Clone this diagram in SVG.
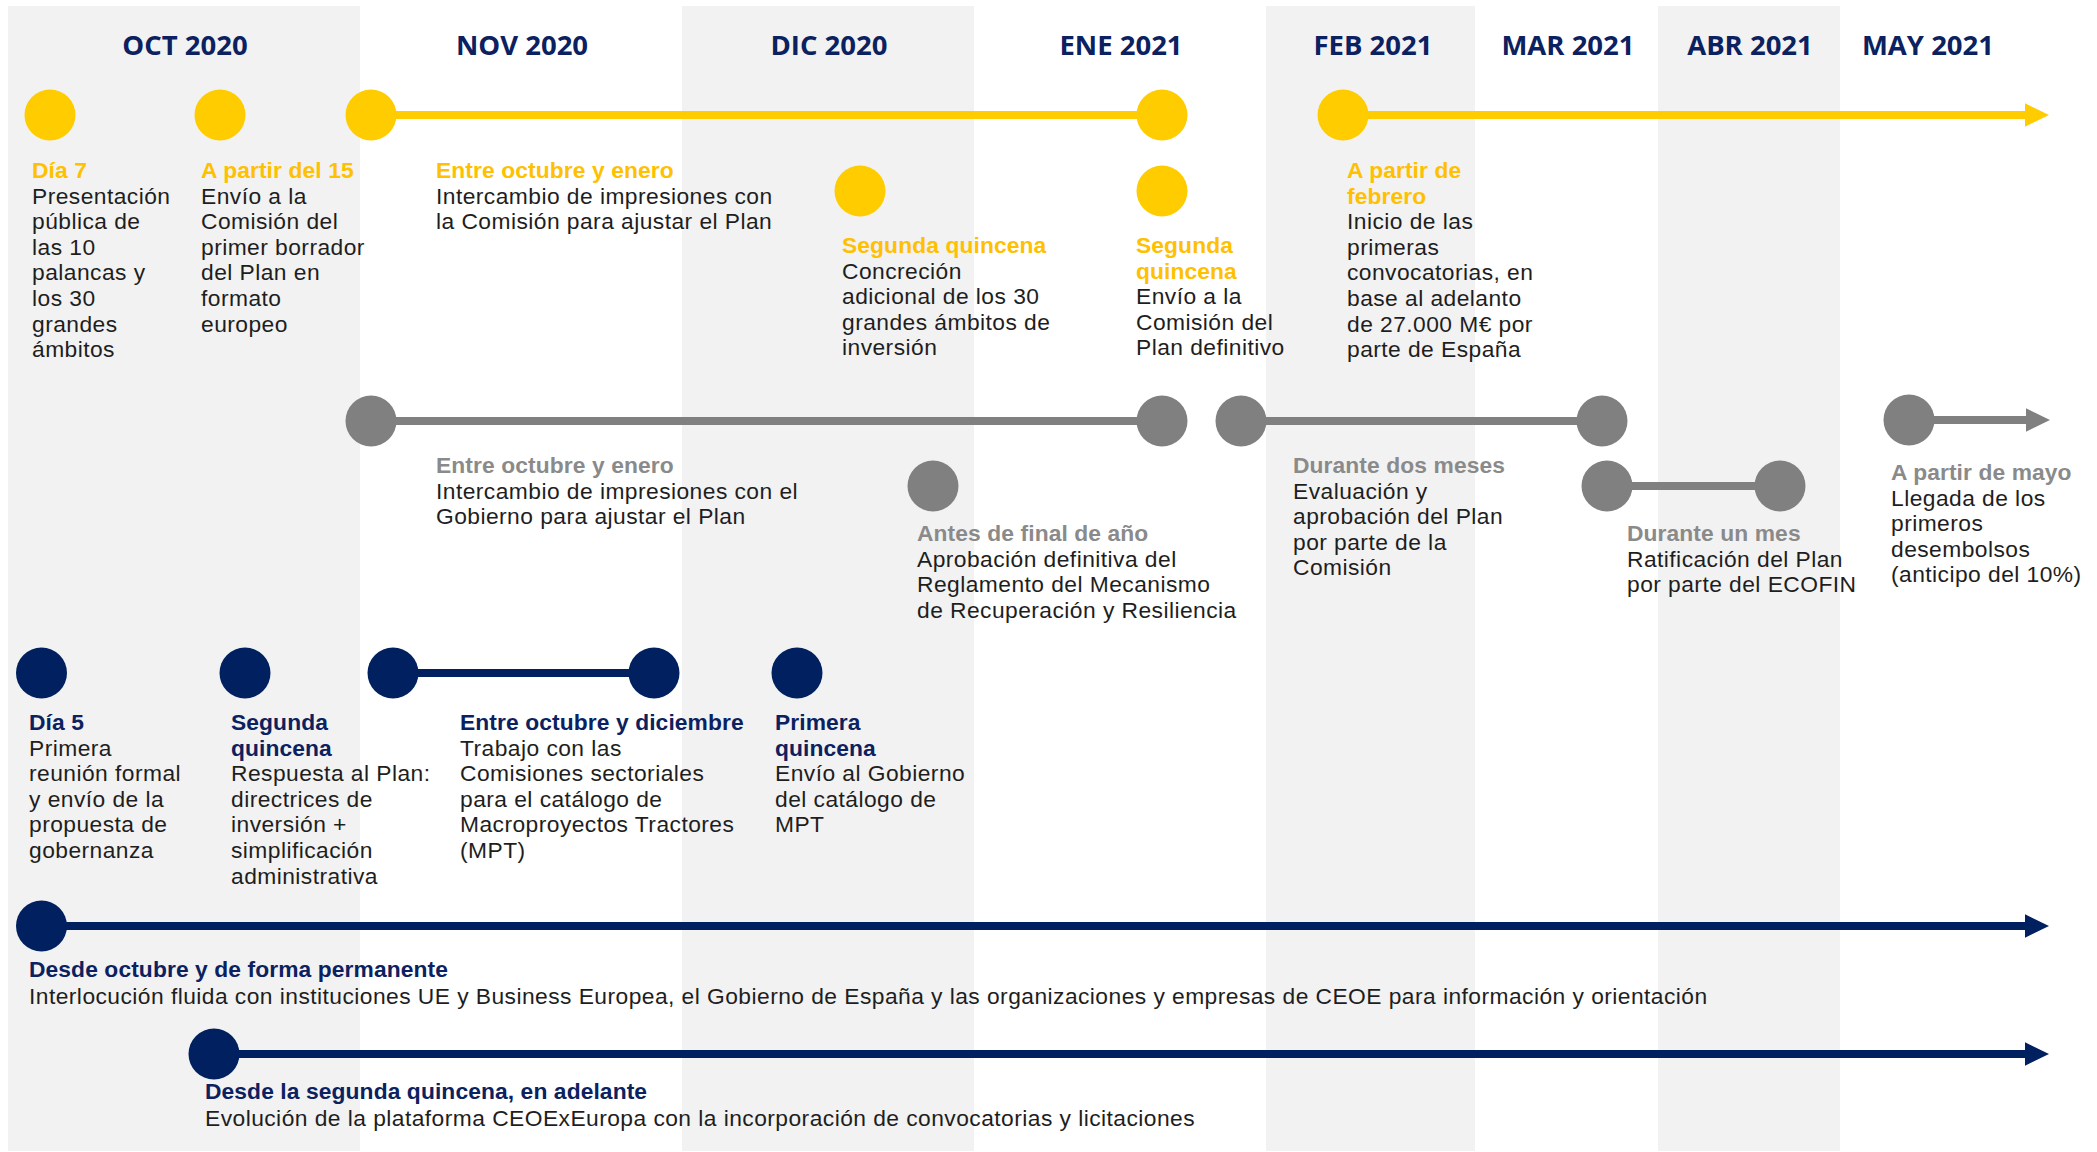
<svg xmlns="http://www.w3.org/2000/svg" width="2097" height="1152" viewBox="0 0 2097 1152">
<defs>
<style>
.band{fill:#F2F2F2}
.month{font-family:"Open Sans","Liberation Sans",sans-serif;font-weight:700;font-size:27.5px;fill:#0B2160;text-anchor:middle}
.t{font-family:"Liberation Sans",Arial,sans-serif;font-size:22.8px;letter-spacing:0.45px;fill:#1E1E1E}
.h{font-weight:700;letter-spacing:0.1px}
.hy{fill:#FFC000}
.hg{fill:#8A8A8A}
.hn{fill:#0B2160}
.cy{fill:#FFCC00}
.cg{fill:#808080}
.cn{fill:#002060}
.ly{stroke:#FFCC00;stroke-width:8;fill:none}
.lg{stroke:#808080;stroke-width:8;fill:none}
.ln{stroke:#002060;stroke-width:8;fill:none}
</style>
<marker id="ay" markerUnits="userSpaceOnUse" markerWidth="24" markerHeight="24" viewBox="0 0 24 24" refX="0" refY="12" orient="auto"><path d="M0,0.3 L24,12 L0,23.7 Z" fill="#FFCC00"/></marker>
<marker id="ag" markerUnits="userSpaceOnUse" markerWidth="24" markerHeight="24" viewBox="0 0 24 24" refX="0" refY="12" orient="auto"><path d="M0,0.3 L24,12 L0,23.7 Z" fill="#808080"/></marker>
<marker id="an" markerUnits="userSpaceOnUse" markerWidth="24" markerHeight="24" viewBox="0 0 24 24" refX="0" refY="12" orient="auto"><path d="M0,0.3 L24,12 L0,23.7 Z" fill="#002060"/></marker>
</defs>
<rect x="0" y="0" width="2097" height="1152" fill="#FFFFFF"/>
<g id="bands">
<rect class="band" x="8" y="6" width="352" height="1145"/>
<rect class="band" x="682" y="6" width="292" height="1145"/>
<rect class="band" x="1266" y="6" width="209" height="1145"/>
<rect class="band" x="1658" y="6" width="182" height="1145"/>
</g>
<g id="months">
<text class="month" x="185" y="55">OCT 2020</text>
<text class="month" x="522" y="55">NOV 2020</text>
<text class="month" x="829" y="55">DIC 2020</text>
<text class="month" x="1121" y="55">ENE 2021</text>
<text class="month" x="1373" y="55">FEB 2021</text>
<text class="month" x="1568" y="55">MAR 2021</text>
<text class="month" x="1750" y="55">ABR 2021</text>
<text class="month" x="1928" y="55">MAY 2021</text>
</g>
<g id="connectors">
<line class="ly" x1="371" y1="115" x2="1162" y2="115"/>
<line class="ly" x1="1343" y1="115" x2="2025" y2="115" marker-end="url(#ay)"/>
<line class="lg" x1="371" y1="421" x2="1162" y2="421"/>
<line class="lg" x1="1241" y1="421" x2="1602" y2="421"/>
<line class="lg" x1="1607" y1="486" x2="1780" y2="486"/>
<line class="lg" x1="1909" y1="420" x2="2026" y2="420" marker-end="url(#ag)"/>
<line class="ln" x1="393" y1="673" x2="654" y2="673"/>
<line class="ln" x1="41.5" y1="926" x2="2025" y2="926" marker-end="url(#an)"/>
<line class="ln" x1="214" y1="1054" x2="2025" y2="1054" marker-end="url(#an)"/>
</g>
<g id="node-y1">
<circle class="cy" cx="50" cy="115" r="25.5"/>
<text class="t"><tspan class="h hy" x="32" y="178">Día 7</tspan><tspan x="32" y="203.6">Presentación</tspan><tspan x="32" y="229.2">pública de</tspan><tspan x="32" y="254.8">las 10</tspan><tspan x="32" y="280.4">palancas y</tspan><tspan x="32" y="306">los 30</tspan><tspan x="32" y="331.6">grandes</tspan><tspan x="32" y="357.2">ámbitos</tspan></text>
</g>
<g id="node-y2">
<circle class="cy" cx="220" cy="115" r="25.5"/>
<text class="t"><tspan class="h hy" x="201" y="178">A partir del 15</tspan><tspan x="201" y="203.6">Envío a la</tspan><tspan x="201" y="229.2">Comisión del</tspan><tspan x="201" y="254.8">primer borrador</tspan><tspan x="201" y="280.4">del Plan en</tspan><tspan x="201" y="306">formato</tspan><tspan x="201" y="331.6">europeo</tspan></text>
</g>
<g id="node-y3">
<circle class="cy" cx="371" cy="115" r="25.5"/>
<circle class="cy" cx="1162" cy="115" r="25.5"/>
<text class="t"><tspan class="h hy" x="436" y="178">Entre octubre y enero</tspan><tspan x="436" y="203.6">Intercambio de impresiones con</tspan><tspan x="436" y="229.2">la Comisión para ajustar el Plan</tspan></text>
</g>
<g id="node-y4">
<circle class="cy" cx="860" cy="191" r="25.5"/>
<text class="t"><tspan class="h hy" x="842" y="253">Segunda quincena</tspan><tspan x="842" y="278.6">Concreción</tspan><tspan x="842" y="304.2">adicional de los 30</tspan><tspan x="842" y="329.8">grandes ámbitos de</tspan><tspan x="842" y="355.4">inversión</tspan></text>
</g>
<g id="node-y5">
<circle class="cy" cx="1162" cy="191" r="25.5"/>
<text class="t"><tspan class="h hy" x="1136" y="253">Segunda</tspan><tspan class="h hy" x="1136" y="278.6">quincena</tspan><tspan x="1136" y="304.2">Envío a la</tspan><tspan x="1136" y="329.8">Comisión del</tspan><tspan x="1136" y="355.4">Plan definitivo</tspan></text>
</g>
<g id="node-y6">
<circle class="cy" cx="1343" cy="115" r="25.5"/>
<text class="t"><tspan class="h hy" x="1347" y="178">A partir de</tspan><tspan class="h hy" x="1347" y="203.6">febrero</tspan><tspan x="1347" y="229.2">Inicio de las</tspan><tspan x="1347" y="254.8">primeras</tspan><tspan x="1347" y="280.4">convocatorias, en</tspan><tspan x="1347" y="306">base al adelanto</tspan><tspan x="1347" y="331.6">de 27.000 M€ por</tspan><tspan x="1347" y="357.2">parte de España</tspan></text>
</g>
<g id="node-g1">
<circle class="cg" cx="371" cy="421" r="25.5"/>
<circle class="cg" cx="1162" cy="421" r="25.5"/>
<text class="t"><tspan class="h hg" x="436" y="473">Entre octubre y enero</tspan><tspan x="436" y="498.6">Intercambio de impresiones con el</tspan><tspan x="436" y="524.2">Gobierno para ajustar el Plan</tspan></text>
</g>
<g id="node-g2">
<circle class="cg" cx="933" cy="486" r="25.5"/>
<text class="t"><tspan class="h hg" x="917" y="541">Antes de final de año</tspan><tspan x="917" y="566.6">Aprobación definitiva del</tspan><tspan x="917" y="592.2">Reglamento del Mecanismo</tspan><tspan x="917" y="617.8">de Recuperación y Resiliencia</tspan></text>
</g>
<g id="node-g3">
<circle class="cg" cx="1241" cy="421" r="25.5"/>
<circle class="cg" cx="1602" cy="421" r="25.5"/>
<text class="t"><tspan class="h hg" x="1293" y="473">Durante dos meses</tspan><tspan x="1293" y="498.6">Evaluación y</tspan><tspan x="1293" y="524.2">aprobación del Plan</tspan><tspan x="1293" y="549.8">por parte de la</tspan><tspan x="1293" y="575.4">Comisión</tspan></text>
</g>
<g id="node-g4">
<circle class="cg" cx="1607" cy="486" r="25.5"/>
<circle class="cg" cx="1780" cy="486" r="25.5"/>
<text class="t"><tspan class="h hg" x="1627" y="541">Durante un mes</tspan><tspan x="1627" y="566.6">Ratificación del Plan</tspan><tspan x="1627" y="592.2">por parte del ECOFIN</tspan></text>
</g>
<g id="node-g5">
<circle class="cg" cx="1909" cy="420" r="25.5"/>
<text class="t"><tspan class="h hg" x="1891" y="480">A partir de mayo</tspan><tspan x="1891" y="505.6">Llegada de los</tspan><tspan x="1891" y="531.2">primeros</tspan><tspan x="1891" y="556.8">desembolsos</tspan><tspan x="1891" y="582.4">(anticipo del 10%)</tspan></text>
</g>
<g id="node-n1">
<circle class="cn" cx="41.5" cy="673" r="25.5"/>
<text class="t"><tspan class="h hn" x="29" y="730">Día 5</tspan><tspan x="29" y="755.6">Primera</tspan><tspan x="29" y="781.2">reunión formal</tspan><tspan x="29" y="806.8">y envío de la</tspan><tspan x="29" y="832.4">propuesta de</tspan><tspan x="29" y="858">gobernanza</tspan></text>
</g>
<g id="node-n2">
<circle class="cn" cx="245" cy="673" r="25.5"/>
<text class="t"><tspan class="h hn" x="231" y="730">Segunda</tspan><tspan class="h hn" x="231" y="755.6">quincena</tspan><tspan x="231" y="781.2">Respuesta al Plan:</tspan><tspan x="231" y="806.8">directrices de</tspan><tspan x="231" y="832.4">inversión +</tspan><tspan x="231" y="858">simplificación</tspan><tspan x="231" y="883.6">administrativa</tspan></text>
</g>
<g id="node-n3">
<circle class="cn" cx="393" cy="673" r="25.5"/>
<circle class="cn" cx="654" cy="673" r="25.5"/>
<text class="t"><tspan class="h hn" x="460" y="730">Entre octubre y diciembre</tspan><tspan x="460" y="755.6">Trabajo con las</tspan><tspan x="460" y="781.2">Comisiones sectoriales</tspan><tspan x="460" y="806.8">para el catálogo de</tspan><tspan x="460" y="832.4">Macroproyectos Tractores</tspan><tspan x="460" y="858">(MPT)</tspan></text>
</g>
<g id="node-n4">
<circle class="cn" cx="797" cy="673" r="25.5"/>
<text class="t"><tspan class="h hn" x="775" y="730">Primera</tspan><tspan class="h hn" x="775" y="755.6">quincena</tspan><tspan x="775" y="781.2">Envío al Gobierno</tspan><tspan x="775" y="806.8">del catálogo de</tspan><tspan x="775" y="832.4">MPT</tspan></text>
</g>
<g id="node-n5">
<circle class="cn" cx="41.5" cy="926" r="25.5"/>
<text class="t"><tspan class="h hn" x="29" y="977">Desde octubre y de forma permanente</tspan><tspan x="29" y="1003.6">Interlocución fluida con instituciones UE y Business Europea, el Gobierno de España y las organizaciones y empresas de CEOE para información y orientación</tspan></text>
</g>
<g id="node-n6">
<circle class="cn" cx="214" cy="1054" r="25.5"/>
<text class="t"><tspan class="h hn" x="205" y="1099">Desde la segunda quincena, en adelante</tspan><tspan x="205" y="1125.6">Evolución de la plataforma CEOExEuropa con la incorporación de convocatorias y licitaciones</tspan></text>
</g>
</svg>
